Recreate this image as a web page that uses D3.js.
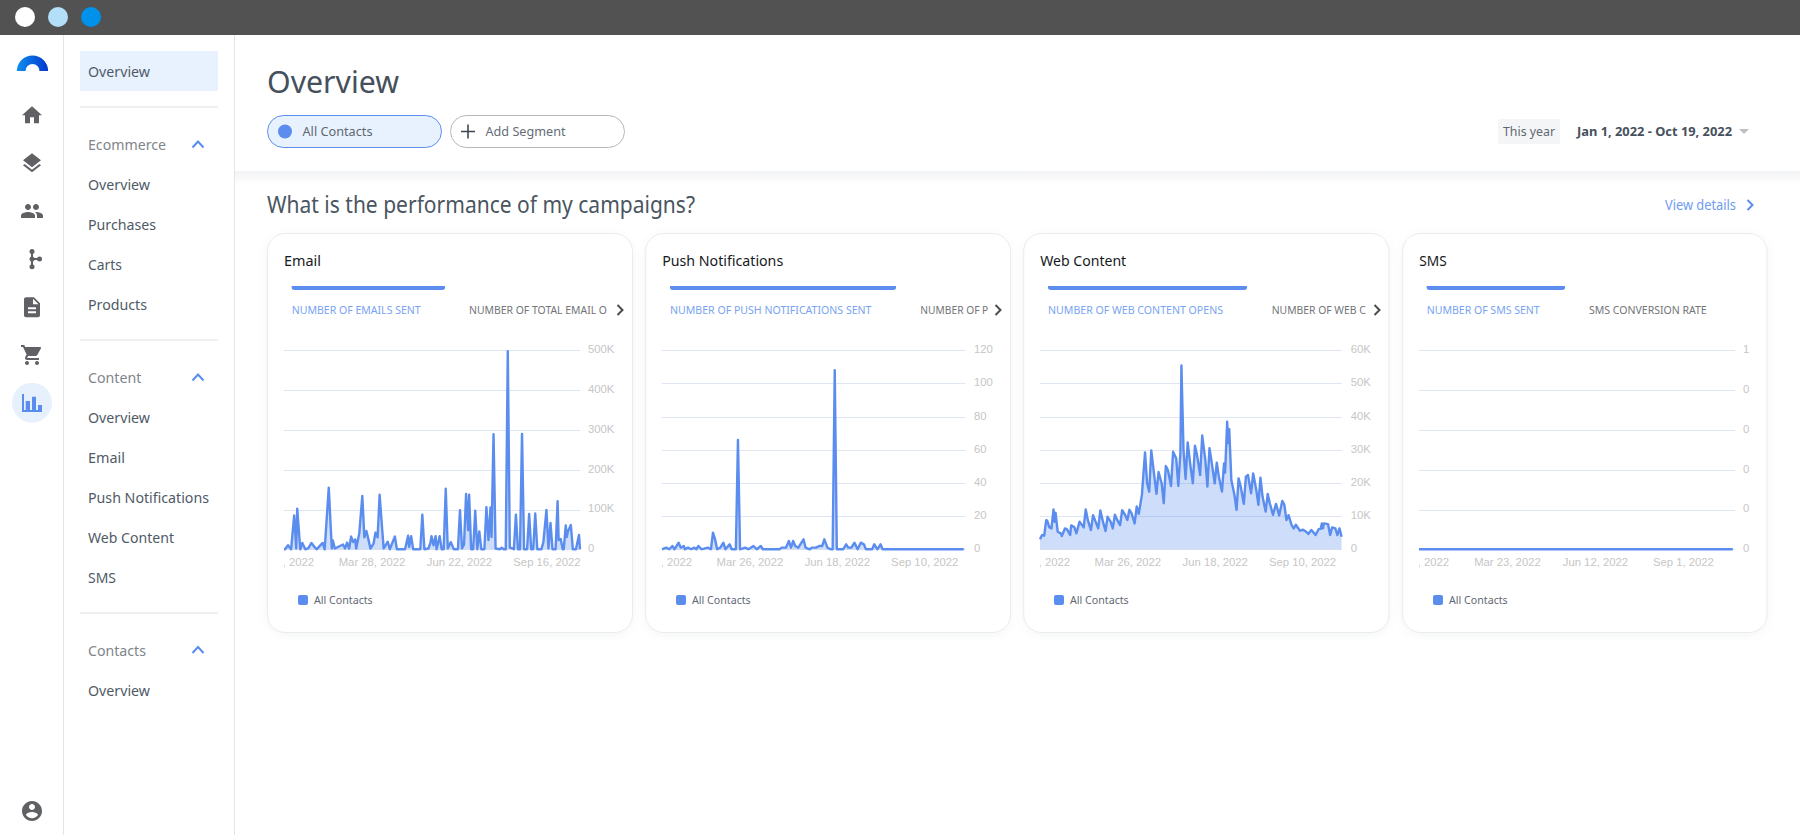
<!DOCTYPE html>
<html><head><meta charset="utf-8">
<script src="https://cdn.jsdelivr.net/npm/d3@7"></script>
<style>html,body{margin:0;padding:0;background:#fff;overflow:hidden}svg{display:block}text{font-family:"Noto Sans",sans-serif}.ax text{font-family:"Liberation Sans",Arial,sans-serif;font-size:11.3px;fill:#c6c6c6}</style>
</head><body><svg id="c" width="1800" height="835"></svg>
<script>
// ---------- chart data (days since Jan 1, 2022 and values) ----------
const emailDays=[0,1,4,7,10,12,13,16,18,21,24,27,30,32,38,40,44,47,48,50,58,60,62,64,66,68,70,71,74,77,79,81,83,85,88,90,92,94,96,98,102,104,109,111,119,122,123,125,127,134,136,138,142,144,145,147,149,150,153,155,157,159,161,164,167,171,173,175,177,179,181,182,184,186,188,190,192,194,197,199,201,203,204,206,208,212,214,216,218,220,222,225,226,228,230,232,234,236,239,241,243,245,247,249,253,255,258,260,262,264,267,269,270,272,274,275,277,278,279,282,284,287,290,291];
const emailValues=[0,0,10000,0,85000,2000,102000,0,16000,0,3000,16000,6000,0,16000,0,155000,2000,22000,2000,12000,2000,17000,2000,32000,18000,25000,2000,40000,134000,30000,46000,25000,2000,14000,42000,30000,137000,68000,2000,19000,0,32000,0,0,34000,6000,33000,0,0,87000,0,2000,17000,33000,10000,33000,0,33000,0,0,152000,2000,18000,0,0,98000,2000,12000,139000,48000,137000,0,0,97000,0,45000,0,0,106000,23000,105000,31000,289000,2000,0,4000,0,0,498000,4000,2000,0,87000,0,0,290000,0,0,89000,0,0,90000,0,0,18000,99000,2000,66000,0,0,121000,23000,26000,0,0,60000,31000,44000,61000,0,0,36000,0];
const pushDays=[0,4,7,10,12,16,18,21,22,25,28,31,33,35,38,44,47,49,51,53,56,59,61,65,67,71,73,75,80,83,88,91,95,97,113,115,119,122,124,126,128,131,136,138,142,144,148,151,154,156,159,162,164,166,168,174,177,179,182,185,188,191,194,196,202,204,207,210,212,290];
const pushValues=[0,1,0,2,0,4,1,2,0,1,0,1,0,2,0,1,0,10,6,0,1,4,0,3,0,0,66,0,1,0,2,0,2,0,0,1,1,5,1,5,2,1,6,1,0,1,1,2,2,6,1,0,0,108,0,0,3,1,1,4,0,4,3,0,0,3,0,3,0,0];
const webDays=[0,2,4,6,7,9,11,13,14,15,17,20,21,24,26,29,30,33,35,38,42,44,46,49,51,56,58,61,63,65,68,70,72,74,77,79,82,84,86,88,91,93,95,98,101,103,105,107,110,112,114,117,119,121,123,126,128,131,133,135,136,138,140,142,145,147,149,151,154,156,159,161,163,165,168,170,172,175,177,178,180,181,182,184,187,189,191,193,196,198,200,203,205,208,210,212,214,217,219,221,224,227,230,233,235,237,239,242,244,246,250,253,256,258,261,265,268,270,271,272,273,277,279,281,284,286,288,290];
const webValues=[3000,4300,4100,8800,8600,6600,6300,12000,8300,11000,5300,4800,4000,6300,6000,4300,7200,6700,4800,8300,6600,12000,8800,5800,10300,6300,11700,7800,5500,9800,8300,6300,10400,9000,7300,11800,10300,8800,11900,10900,7800,12900,10700,16400,29200,19900,17400,29800,21900,16700,23300,19900,13900,25100,23900,19100,29400,27400,19100,28900,55400,30000,21200,32200,24400,19900,31200,28400,22400,34300,26900,18900,30500,26400,19900,26100,21900,17400,25900,23100,38500,32000,36200,20900,16400,11900,21400,18900,13700,21900,22400,16900,22900,17900,13400,21600,15900,11400,16700,13900,10400,13700,10200,14600,13400,8800,10300,7300,6300,7400,5600,5900,5300,4600,5800,4300,6100,6200,7800,6300,7800,7600,4300,6600,6300,4300,6300,3800];
const smsDays=[0,289];
const smsValues=[0,0];
const emailTicks=[0,100000,200000,300000,400000,500000], emailTickLabels=["0","100K","200K","300K","400K","500K"];
const pushTicks=[0,20,40,60,80,100,120], pushTickLabels=["0","20","40","60","80","100","120"];
const webTicks=[0,10000,20000,30000,40000,50000,60000], webTickLabels=["0","10K","20K","30K","40K","50K","60K"];
const smsTicks=[0,0.2,0.4,0.6,0.8,1], smsTickLabels=["0","0","0","0","0","1"];
const emailDates=["2022-01-01","2022-03-28","2022-06-22","2022-09-16"];
const pushDates=["2022-01-01","2022-03-26","2022-06-18","2022-09-10"];
const webDates=["2022-01-01","2022-03-26","2022-06-18","2022-09-10"];
const smsDates=["2022-01-01","2022-03-23","2022-06-12","2022-09-01"];
const seriesName="All Contacts";

// ---------- layout ----------
const BLUE="#5b8def",NAV="#4f5a67",SEC="#80858c",ICON="#5f6164";
const svg=d3.select("#c");
const T=(g,s,x,y,w,o={})=>{const t=g.append("text").attr("x",x).attr("y",y).attr("dy","0.35em").text(s)
  .attr("font-size",o.size||15).attr("fill",o.fill||NAV).attr("font-weight",o.weight||400);
  if(w){t.attr("textLength",w).attr("lengthAdjust","spacingAndGlyphs");}return t;};
const chev=(g,pts,c,sw=2)=>g.append("path").attr("d",d3.line()(pts)).attr("fill","none").attr("stroke",c).attr("stroke-width",sw);

// top bar
svg.append("rect").attr("width",1800).attr("height",35).attr("fill","#525252");
[[25,"#ffffff"],[58,"#b3dff9"],[91,"#0091ea"]].forEach(d=>svg.append("circle").attr("cx",d[0]).attr("cy",17).attr("r",10).attr("fill",d[1]));
// sidebar rules
[63.5,234.5].forEach(x=>svg.append("line").attr("x1",x).attr("x2",x).attr("y1",35).attr("y2",835).attr("stroke","#e3e4e6"));
// logo
const defs=svg.append("defs");
const lg=defs.append("linearGradient").attr("id","lg");
lg.append("stop").attr("offset","0").attr("stop-color","#0e8ef0");lg.append("stop").attr("offset","1").attr("stop-color","#0039cc");
svg.append("path").attr("transform","translate(32.5,71)").attr("fill","url(#lg)")
  .attr("d",d3.arc()({innerRadius:7,outerRadius:15.6,startAngle:-Math.PI/2,endAngle:Math.PI/2}));
// rail icons
const icons=[
 [115.2,"M10 20v-6h4v6h5v-8h3L12 3 2 12h3v8z"],
 [163.2,"M11.99 18.54l-7.37-5.73L3 14.07l9 7 9-7-1.63-1.27-7.38 5.74zM12 16l7.36-5.73L21 9l-9-7-9 7 1.63 1.27L12 16z"],
 [211,"M16 11c1.66 0 2.99-1.34 2.99-3S17.66 5 16 5c-1.66 0-3 1.34-3 3s1.34 3 3 3zm-8 0c1.66 0 2.99-1.34 2.99-3S9.66 5 8 5C6.34 5 5 6.34 5 8s1.34 3 3 3zm0 2c-2.33 0-7 1.17-7 3.5V19h14v-2.5c0-2.33-4.67-3.5-7-3.5zm8 0c-.29 0-.62.02-.97.05 1.16.84 1.97 1.97 1.97 3.45V19h6v-2.5c0-2.33-4.67-3.5-7-3.5z"],
 [307.3,"M14 2H6c-1.1 0-1.99.9-1.99 2L4 20c0 1.1.89 2 1.99 2H18c1.1 0 2-.9 2-2V8l-6-6zm2 16H8v-2h8v2zm0-4H8v-2h8v2zm-3-5V3.5L18.5 9H13z"],
 [355,"M7 18c-1.1 0-1.99.9-1.99 2S5.9 22 7 22s2-.9 2-2-.9-2-2-2zM1 2v2h2l3.6 7.59-1.35 2.45c-.16.28-.25.61-.25.96 0 1.1.9 2 2 2h12v-2H7.42c-.14 0-.25-.11-.25-.25l.03-.12.9-1.63h7.45c.75 0 1.41-.41 1.75-1.03l3.58-6.49c.08-.14.12-.31.12-.48 0-.55-.45-1-1-1H5.21l-.94-2H1zm16 16c-1.1 0-1.99.9-1.99 2s.89 2 1.99 2 2-.9 2-2-.9-2-2-2z"],
 [811,"M12 2C6.48 2 2 6.48 2 12s4.48 10 10 10 10-4.48 10-10S17.52 2 12 2zm0 3c1.66 0 3 1.34 3 3s-1.34 3-3 3-3-1.34-3-3 1.34-3 3-3zm0 14.2c-2.5 0-4.71-1.28-6-3.22.03-1.99 4-3.08 6-3.08 1.99 0 5.97 1.09 6 3.08-1.29 1.94-3.5 3.22-6 3.22z"]];
icons.forEach(d=>svg.append("path").attr("transform",`translate(20,${d[0]-12})`).attr("d",d[1]).attr("fill",ICON));
// flow icon
const fl=svg.append("g").attr("fill",ICON);
fl.append("path").attr("fill","none").attr("stroke",ICON).attr("stroke-width",2).attr("d","M32 251V267M32 259H39.5");
[[32,251.5],[32,259],[32,266.7],[39.5,259]].forEach(p=>fl.append("circle").attr("cx",p[0]).attr("cy",p[1]).attr("r",2.5));
// active chart icon
svg.append("circle").attr("cx",32).attr("cy",402.7).attr("r",20).attr("fill","#e6f1fd");
svg.append("path").attr("fill",BLUE).attr("d","M22 394h2v16h1.7v-9H30v9h2V396.7h4V410h2V405h4v7H22z");

// nav
svg.append("rect").attr("x",80).attr("y",51).attr("width",138).attr("height",40).attr("fill","#e8f2fe");
const nav=[["Overview",71.5,62,NAV],["Ecommerce",145,78,SEC],["Overview",185,62,NAV],["Purchases",225,68,NAV],["Carts",264.5,34,NAV],["Products",304.5,59,NAV],
 ["Content",378,53.3,SEC],["Overview",418,62,NAV],["Email",457.5,37,NAV],["Push Notifications",497.5,121,NAV],["Web Content",537.5,86,NAV],["SMS",577.5,28,NAV],
 ["Contacts",650.5,58,SEC],["Overview",690.5,62,NAV]];
nav.forEach(d=>T(svg,d[0],88,d[1],d[2],{fill:d[3]}));
[107,340,613].forEach(y=>svg.append("line").attr("x1",80).attr("x2",218).attr("y1",y).attr("y2",y).attr("stroke","#dfe0e2"));
[145,378,650.5].forEach(y=>chev(svg,[[192.5,y+2.5],[198,y-3.5],[203.5,y+2.5]],BLUE));

// header
T(svg,"Overview",267,82,132,{size:30,fill:"#45505c"});
svg.append("rect").attr("x",267.5).attr("y",115.5).attr("width",174).attr("height",32).attr("rx",16).attr("fill","#e8f2fe").attr("stroke",BLUE);
svg.append("circle").attr("cx",285).attr("cy",131.5).attr("r",7).attr("fill",BLUE);
T(svg,seriesName,302.5,131,70,{size:13,fill:"#5f6872"});
svg.append("rect").attr("x",450.5).attr("y",115.5).attr("width",174).attr("height",32).attr("rx",16).attr("fill","#fff").attr("stroke","#b5b7ba");
svg.append("path").attr("d","M461 131.5H475M468 124.5V138.5").attr("stroke","#3e4650").attr("stroke-width",1.6);
T(svg,"Add Segment",485.5,131,80,{size:13,fill:"#656d76"});
svg.append("rect").attr("x",1498).attr("y",119).attr("width",62).attr("height",25).attr("rx",2).attr("fill","#f4f5f6");
T(svg,"This year",1503,131,52,{size:13,fill:"#5f6872"});
T(svg,"Jan 1, 2022 - Oct 19, 2022",1577,131,155,{size:13,fill:"#45505c",weight:700});
svg.append("path").attr("d","M1739 129H1749L1744 134Z").attr("fill","#bdbfc2");
const sh=defs.append("linearGradient").attr("id","sh").attr("x1",0).attr("x2",0).attr("y1",0).attr("y2",1);
sh.append("stop").attr("offset","0").attr("stop-color","#f2f3f5");sh.append("stop").attr("offset","1").attr("stop-color","#ffffff");
svg.append("rect").attr("x",235).attr("y",171).attr("width",1565).attr("height",14).attr("fill","url(#sh)");
T(svg,"What is the performance of my campaigns?",267,204.5,428,{size:23,fill:"#4a5561"});
T(svg,"View details",1665,205,71,{size:14,fill:"#6f9cf0"});
chev(svg,[[1747.5,200],[1752.5,205],[1747.5,210]],BLUE);

// chart cards
const charts=[
 {title:"Email",titleW:37,card:[267.5,632.5],days:emailDays,values:emailValues,ticks:emailTicks,labels:emailTickLabels,dates:emailDates,max:500000,
  x:[284,580],gridEnd:580,labelX:588,bar:[291.7,445],tab1:["NUMBER OF EMAILS SENT",129],tab2:["NUMBER OF TOTAL EMAIL O",469,138],more:620,legend:298,fillOp:.3},
 {title:"Push Notifications",titleW:121,card:[645.7,1010.5],days:pushDays,values:pushValues,ticks:pushTicks,labels:pushTickLabels,dates:pushDates,max:120,
  x:[662,964.8],gridEnd:965.7,labelX:974,bar:[670,896],tab1:["NUMBER OF PUSH NOTIFICATIONS SENT",201.5],tab2:["NUMBER OF P",920.3,68],more:998,legend:676,fillOp:.3},
 {title:"Web Content",titleW:86,card:[1023.7,1389],days:webDays,values:webValues,ticks:webTicks,labels:webTickLabels,dates:webDates,max:60000,
  x:[1040,1342.6],gridEnd:1342,labelX:1350.7,bar:[1048,1247],tab1:["NUMBER OF WEB CONTENT OPENS",175],tab2:["NUMBER OF WEB C",1271.7,94],more:1377,legend:1054,fillOp:.3},
 {title:"SMS",titleW:27.5,card:[1402.7,1767],days:smsDays,values:smsValues,ticks:smsTicks,labels:smsTickLabels,dates:smsDates,max:1,
  x:[1419,1735],gridEnd:1735,labelX:1743,bar:[1426.7,1565],tab1:["NUMBER OF SMS SENT",113],tab2:["SMS CONVERSION RATE",1589,117.7],more:null,legend:1433,fillOp:.3}
];
const start=new Date(2022,0,1), end=new Date(2022,9,19);
const parse=d3.timeParse("%Y-%m-%d");
const Y0=549.3,Y1=350.3;
charts.forEach((c,i)=>{
  const g=svg.append("g");
  const [cl,cr]=c.card;
  g.append("rect").attr("x",cl).attr("y",233.5).attr("width",cr-cl).attr("height",399).attr("rx",18)
    .attr("fill","#fff").attr("stroke","#e9ebee").style("filter","drop-shadow(0 2px 4px rgba(40,50,70,.05))");
  T(g,c.title,cl+16.5,260.5,c.titleW,{size:15,fill:"#17191c"});
  const [bl,br]=c.bar;
  g.append("path").attr("fill",BLUE).attr("d",`M${bl} 286H${br}V287.5Q${br} 290 ${br-3} 290H${bl+3}Q${bl} 290 ${bl} 287.5Z`);
  T(g,c.tab1[0],bl,310,c.tab1[1],{size:11.5,fill:"#78a4f3"});
  T(g,c.tab2[0],c.tab2[1],310,c.tab2[2],{size:11.5,fill:"#727579"});
  if(c.more) chev(g,[[c.more-2.5,305],[c.more+2.5,310],[c.more-2.5,315]],"#4a4d52");

  const x=d3.scaleTime().domain([start,end]).range(c.x);
  const y=d3.scaleLinear().domain([0,c.max]).range([Y0,Y1]);
  // gridlines
  g.append("g").selectAll("line").data(c.ticks).join("line")
    .attr("x1",c.x[0]).attr("x2",c.gridEnd).attr("y1",d=>Math.round(y(d))+.5).attr("y2",d=>Math.round(y(d))+.5)
    .attr("stroke","#dfe5f3").attr("stroke-width",1);
  // y axis
  const ya=g.append("g").attr("class","ax").attr("transform",`translate(${c.labelX},-1)`)
    .call(d3.axisRight(y).tickValues(c.ticks).tickSize(0).tickPadding(0).tickFormat((d,k)=>c.labels[k]));
  ya.select(".domain").remove();
  ya.selectAll("text").attr("dy","0.3em");
  // x axis, clipped at the plot's left edge
  const cid="clip"+i;
  defs.append("clipPath").attr("id",cid).append("rect").attr("x",c.x[0]).attr("y",550).attr("width",320).attr("height",30);
  const xa=g.append("g").attr("clip-path",`url(#${cid})`).append("g").attr("class","ax").attr("transform","translate(0,557.5)")
    .call(d3.axisBottom(x).tickValues(c.dates.map(parse)).tickSize(0).tickPadding(0).tickFormat(d3.timeFormat("%b %-d, %Y")));
  xa.select(".domain").remove();
  // series
  const pts=c.days.map((d,k)=>({t:d3.timeDay.offset(start,d),v:c.values[k]}));
  g.append("path").datum(pts).attr("fill",BLUE).attr("fill-opacity",c.fillOp)
    .attr("d",d3.area().x(d=>x(d.t)).y0(Y0).y1(d=>y(d.v)));
  g.append("path").datum(pts).attr("fill","none").attr("stroke",BLUE).attr("stroke-width",2.4).attr("stroke-linejoin","round")
    .attr("d",d3.line().x(d=>x(d.t)).y(d=>y(d.v)));
  // legend
  g.append("rect").attr("x",c.legend).attr("y",595).attr("width",10).attr("height",10).attr("rx",2).attr("fill",BLUE);
  T(g,seriesName,c.legend+16,600,58.7,{size:11.5,fill:"#5f6872"});
});
</script></body></html>
